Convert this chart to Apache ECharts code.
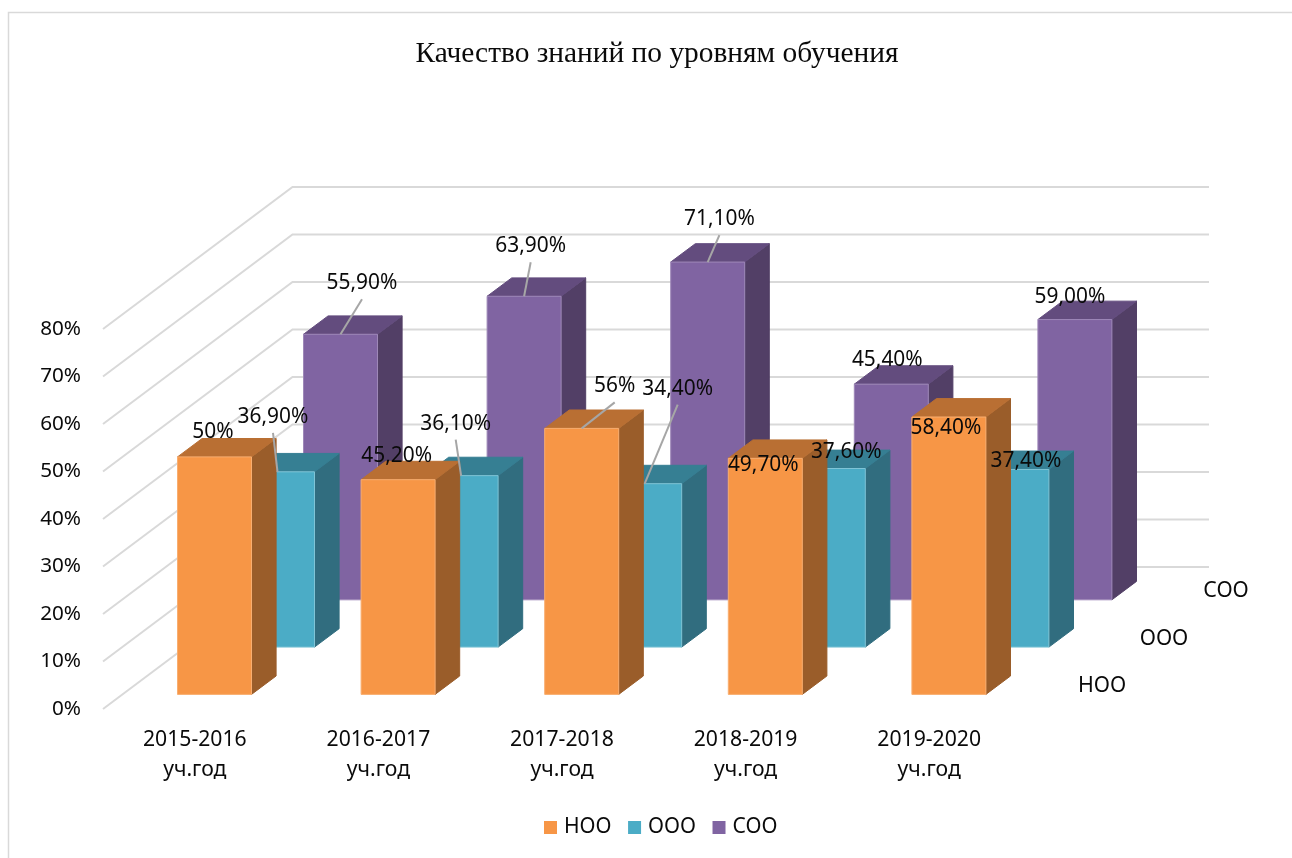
<!DOCTYPE html>
<html>
<head>
<meta charset="utf-8">
<style>html,body{margin:0;padding:0;background:#fff}#c{width:1292px;height:858px}</style>
<script src="https://cdn.jsdelivr.net/npm/echarts@6/dist/echarts.min.js"></script>
</head>
<body>
<div id="c"></div>
<script>
const categories = ['2015-2016\nуч.год', '2016-2017\nуч.год', '2017-2018\nуч.год', '2018-2019\nуч.год', '2019-2020\nуч.год'];
const yTicks = [0, 10, 20, 30, 40, 50, 60, 70, 80];
const nooValues = [50, 45.2, 56, 49.7, 58.4];
const oooValues = [36.9, 36.1, 34.4, 37.6, 37.4];
const sooValues = [55.9, 63.9, 71.1, 45.4, 59.0];
const nooLabels = ['50%', '45,20%', '56%', '49,70%', '58,40%'];
const oooLabels = ['36,90%', '36,10%', '34,40%', '37,60%', '37,40%'];
const sooLabels = ['55,90%', '63,90%', '71,10%', '45,40%', '59,00%'];
const nooLabelOffsets = [[-1.5, -25.5], [-1.4, -24.3], [33, -43], [-2, 6], [-3, 10.4]];
const oooLabelOffsets = [[-4.5, -56], [-5.4, -53], [33, -96], [18, -17], [14, -9]];
const sooLabelOffsets = [[21.5, -52], [6.6, -51], [11.7, -44], [-4, -25], [-5, -24]];

const FONT = '"Noto Sans"';
const INK = '#0a0a0a';
const rows = [
  {name: 'НОО', values: nooValues, labels: nooLabels, offs: nooLabelOffsets, r: 0,
   front: '#F79646', top: '#B96F33', side: '#9A5D2A', edge: '#F9AE70'},
  {name: 'ООО', values: oooValues, labels: oooLabels, offs: oooLabelOffsets, r: 1,
   front: '#4BACC6', top: '#367F93', side: '#316D7F', edge: '#7FC4D6'},
  {name: 'СОО', values: sooValues, labels: sooLabels, offs: sooLabelOffsets, r: 2,
   front: '#8064A2', top: '#634C7E', side: '#523F66', edge: '#9E88B8'}
];
const ROW_DX = 63, ROW_DY = -47.3, BASE_DX = 19.7, BASE_DY = -14.6;
const DEPTH_DX = 24.6, DEPTH_DY = -18.4, BAR_W = 74;
const WALL_DX = 189.5, WALL_DY = -142, WALL_RIGHT = 1209;

function barOrigin(api, i, v, r) {
  const p = api.coord([i, v]);
  return [p[0] + BASE_DX + ROW_DX * r, p[1] + BASE_DY + ROW_DY * r];
}

function barSeries(row) {
  return {
    name: row.name, type: 'custom', coordinateSystem: 'cartesian2d', z: 4 - row.r, silent: true,
    clip: false, animation: false, itemStyle: {color: row.front},
    encode: {x: 0, y: 1},
    data: row.values.map((v, i) => [i, v]),
    renderItem(params, api) {
      const i = api.value(0), v = api.value(1);
      const t = barOrigin(api, i, v, row.r), b = barOrigin(api, i, 0, row.r);
      const l = t[0] - BAR_W / 2, rr = t[0] + BAR_W / 2;
      const poly = (points, fill, stroke) => ({
        type: 'polygon', shape: {points},
        style: {fill, stroke: stroke || fill, lineWidth: 1}
      });
      return {type: 'group', children: [
        poly([[rr, t[1]], [rr + DEPTH_DX, t[1] + DEPTH_DY], [rr + DEPTH_DX, b[1] + DEPTH_DY], [rr, b[1]]], row.side),
        poly([[l, t[1]], [l + DEPTH_DX, t[1] + DEPTH_DY], [rr + DEPTH_DX, t[1] + DEPTH_DY], [rr, t[1]]], row.top),
        poly([[l, t[1]], [rr, t[1]], [rr, b[1]], [l, b[1]]], row.front, row.edge)
      ]};
    }
  };
}

function labelSeries(row) {
  return {
    name: row.name + ' labels', type: 'custom', coordinateSystem: 'cartesian2d', z: 10, silent: true,
    clip: false, animation: false, encode: {x: 0, y: 1},
    data: row.values.map((v, i) => [i, v]),
    renderItem(params, api) {
      const i = api.value(0), v = api.value(1);
      const a = barOrigin(api, i, v, row.r), off = row.offs[i];
      const cx = a[0] + off[0], cy = a[1] + off[1];
      const children = [];
      if (off[1] <= -40) {
        children.push({type: 'line', shape: {x1: cx, y1: cy + 17, x2: a[0], y2: a[1]},
          style: {stroke: '#A6A6A6', lineWidth: 2}});
      }
      children.push({type: 'text', style: {x: cx, y: cy + 1, text: row.labels[i], fill: INK,
        fontFamily: FONT, fontSize: 20.9, align: 'center', verticalAlign: 'middle'}});
      return {type: 'group', children};
    }
  };
}

const wallSeries = {
  name: 'walls', type: 'custom', coordinateSystem: 'cartesian2d', z: 1, silent: true,
  clip: false, animation: false, encode: {y: 1},
  data: yTicks.map(t => [0, t]),
  renderItem(params, api) {
    const y = api.coord([0, api.value(1)])[1], x = params.coordSys.x;
    return {type: 'polyline',
      shape: {points: [[x, y], [x + WALL_DX, y + WALL_DY], [WALL_RIGHT, y + WALL_DY]]},
      style: {stroke: '#D9D9D9', lineWidth: 2, fill: 'none'}};
  }
};

const depthSeries = {
  name: 'depth labels', type: 'custom', coordinateSystem: 'cartesian2d', z: 10, silent: true,
  clip: false, animation: false, encode: {y: 1},
  data: rows.map(r => [0, 0]),
  renderItem(params, api) {
    const row = rows[params.dataIndex];
    const c = params.coordSys;
    return {type: 'text', style: {
      x: c.x + c.width + 81 + 62 * row.r, y: c.y + c.height - 23 + ROW_DY * row.r,
      text: row.name, fill: INK, fontFamily: FONT, fontSize: 21.3, align: 'center', verticalAlign: 'middle'}};
  }
};

const chart = echarts.init(document.getElementById('c'), null, {renderer: 'canvas'});
chart.setOption({
  animation: false,
  backgroundColor: '#fff',
  graphic: [{type: 'rect', z: -1, silent: true, shape: {x: 8.5, y: 12.5, width: 1400, height: 1000},
    style: {fill: 'none', stroke: '#D9D9D9', lineWidth: 1.5}}],
  title: {text: 'Качество знаний по уровням обучения', left: 652, top: 35, textAlign: 'center',
    textStyle: {fontFamily: '"Liberation Serif"', fontSize: 29.4, fontWeight: 'normal', color: INK}},
  legend: {left: 539, top: 812, itemWidth: 13, itemHeight: 13, itemGap: 16.5, icon: 'rect',
    data: rows.map(r => r.name),
    textStyle: {fontFamily: FONT, fontSize: 21, color: INK, padding: [0, 0, 0, 2]}},
  grid: {left: 103, top: 329, width: 918, height: 380},
  xAxis: {type: 'category', data: categories,
    axisLine: {show: false}, axisTick: {show: false}, splitLine: {show: false},
    axisLabel: {margin: 16, fontFamily: FONT, fontSize: 21.2, color: INK, lineHeight: 30, interval: 0}},
  yAxis: {type: 'value', min: 0, max: 80, interval: 10,
    axisLine: {show: false}, axisTick: {show: false}, splitLine: {show: false},
    axisLabel: {margin: 22, fontFamily: FONT, fontSize: 20.7, color: INK, padding: [6, 0, 0, 0], formatter: '{value}%'}},
  series: [wallSeries].concat(rows.map(barSeries), rows.map(labelSeries), [depthSeries])
});
</script>
</body>
</html>
